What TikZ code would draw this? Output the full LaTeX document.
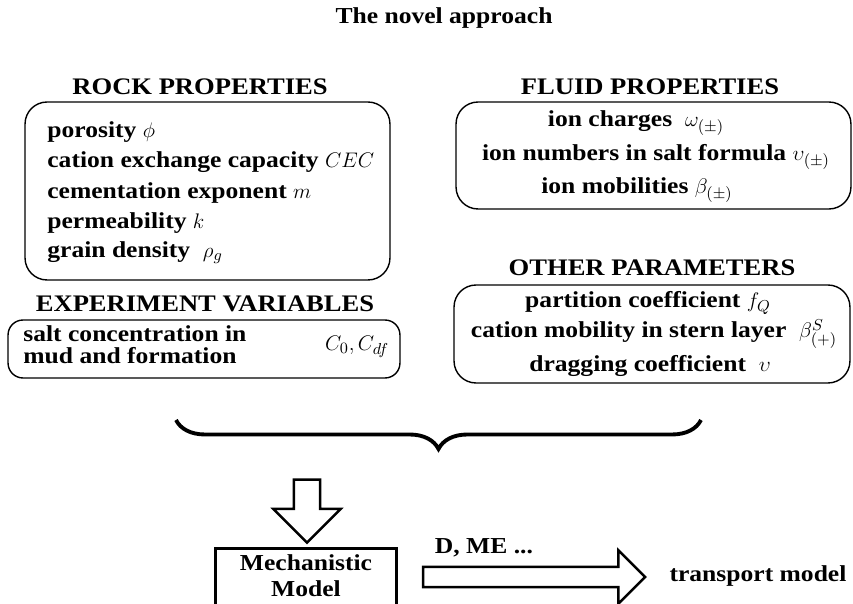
\documentclass[tikz,border=0pt]{standalone}
\usepackage{fontspec}
\setmainfont{Liberation Serif}[FakeStretch=1.12]
\usetikzlibrary{shapes.arrows,decorations.pathreplacing}

\begin{document}
\begin{tikzpicture}[x=0.02cm,y=-0.02cm,
  font=\bfseries\fontsize{13}{15}\selectfont,
  panel/.style={draw,rounded corners=0.44cm,line width=0.8pt,inner sep=0pt},
  heading/.style={font=\bfseries\fontsize{13.5}{16}\selectfont},
  item/.style={anchor=west,inner sep=0pt},
  blockarrow/.style={draw,single arrow,line width=1.4pt,inner xsep=0pt}]
\clip (0,0) rectangle (853,604);
\node (title) at (444,18) {The novel approach};

\node[heading] (rockhead) at (200,87) {ROCK PROPERTIES};
\node[panel,minimum width=7.3cm,minimum height=3.56cm] (rock) at (207.5,191) {};
\node[item] (phi) at (47,132) {porosity $\phi$};
\node[item] (cec) at (47,162) {cation exchange capacity $CEC$};
\node[item] (cem) at (47,193) {cementation exponent $m$};
\node[item] (perm) at (47,223) {permeability $k$};
\node[item] (rho) at (47,253) {grain density~ $\rho_g$};

\node[heading] (fluidhead) at (650,87) {FLUID PROPERTIES};
\node[panel,minimum width=7.9cm,minimum height=2.14cm] (fluid) at (653.5,155.5) {};
\node (charge) at (636,123) {ion charges~ $\omega_{(\pm)}$};
\node (number) at (656,157) {ion numbers in salt formula $\upsilon_{(\pm)}$};
\node (mobil) at (637,190) {ion mobilities $\beta_{(\pm)}$};

\node[heading] (otherhead) at (652,268) {OTHER PARAMETERS};
\node[panel,minimum width=7.92cm,minimum height=1.96cm] (other) at (652,334) {};
\node (part) at (648,303) {partition coefficient $f_Q$};
\node (stern) at (654,334) {cation mobility in stern layer\ \ $\beta^S_{(+)}$};
\node (drag) at (650,366) {dragging coefficient~ $\upsilon$};

\node[heading] (exphead) at (205,304) {EXPERIMENT VARIABLES};
\node[panel,rounded corners=0.3cm,minimum width=7.84cm,minimum height=1.16cm] (exp) at (204,349) {};
\node[item] (salt) at (23,334) {salt concentration in};
\node[item] (mud) at (23,356) {mud and formation};
\node (conc) at (357,347) {$C_0,C_{df}$};

\coordinate (braceL) at (176,420);
\coordinate (braceR) at (701,420);
\draw[decorate,decoration={brace,mirror,amplitude=0.58cm},line width=2.2pt] (braceL) -- (braceR);

\node[blockarrow,rotate=-90,inner ysep=0.24cm,minimum height=1.26cm,minimum width=1.3cm,
  single arrow head extend=0.41cm] (down) at (307,504.5) {};
\node[draw,line width=1.7pt,minimum width=3.64cm,minimum height=1.7cm,anchor=north,
  align=center,text depth=1.4cm] (model) at (306,547) {Mechanistic\\Model};
\node[blockarrow,inner ysep=0.18cm,minimum height=4.44cm,minimum width=1.02cm,
  single arrow head extend=0.33cm] (right) at (529,577) {};
\node (dme) at (484,548) {D, ME ...};
\node (trans) at (758,576) {transport model};
\end{tikzpicture}
\end{document}
